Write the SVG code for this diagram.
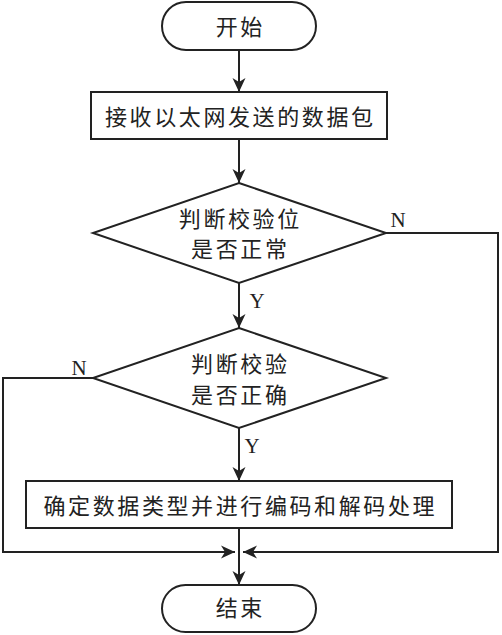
<svg xmlns="http://www.w3.org/2000/svg" width="502" height="635" viewBox="0 0 502 635">
<style>
.shape{fill:#fff;stroke:#222;stroke-width:2}
.line{fill:none;stroke:#222;stroke-width:2}
.cn{font-family:"Noto Sans CJK SC","Noto Sans CJK JP",sans-serif;font-size:22px;fill:#222;text-anchor:middle;dominant-baseline:central;letter-spacing:2.6px}
.lb{font-family:"Liberation Serif",serif;font-size:21px;fill:#222;text-anchor:middle}
</style>
<defs>
<marker id="ah" markerUnits="userSpaceOnUse" markerWidth="16" markerHeight="14" refX="15" refY="7" orient="auto">
<path d="M15,7 L1,0.5 L5,7 L1,13.5 Z" fill="#222"/>
</marker>
</defs>
<rect width="502" height="635" fill="#fff"/>
<g id="connectors">
<line class="line" x1="239" y1="50" x2="239" y2="92" marker-end="url(#ah)"/>
<line class="line" x1="239" y1="139" x2="239" y2="183" marker-end="url(#ah)"/>
<line class="line" x1="239" y1="283" x2="239" y2="328" marker-end="url(#ah)"/>
<line class="line" x1="239" y1="428" x2="239" y2="481" marker-end="url(#ah)"/>
<line class="line" x1="239" y1="528" x2="239" y2="585" marker-end="url(#ah)"/>
<polyline class="line" points="386,233 498,233 498,552 243,552" marker-end="url(#ah)"/>
<polyline class="line" points="93,378 3,378 3,552 235,552" marker-end="url(#ah)"/>
<text class="lb" x="398" y="227">N</text>
<text class="lb" x="257" y="308">Y</text>
<text class="lb" x="79" y="375">N</text>
<text class="lb" x="252" y="453">Y</text>
</g>
<g id="start">
<rect class="shape" x="162" y="2" width="154" height="48" rx="24" ry="24"/>
<text class="cn" x="240.3" y="25">开始</text>
</g>
<g id="receive">
<rect class="shape" x="91" y="92" width="296" height="47"/>
<text class="cn" x="240.3" y="114.5">接收以太网发送的数据包</text>
</g>
<g id="check-bit">
<polygon class="shape" points="239,183 386,233 239,283 93,233"/>
<text class="cn" x="240.3" y="217">判断校验位</text>
<text class="cn" x="240.3" y="247">是否正常</text>
</g>
<g id="check-correct">
<polygon class="shape" points="239,328 386,378 239,428 93,378"/>
<text class="cn" x="240.3" y="362">判断校验</text>
<text class="cn" x="240.3" y="393">是否正确</text>
</g>
<g id="process">
<rect class="shape" x="26" y="481" width="426" height="47"/>
<text class="cn" x="240.3" y="504">确定数据类型并进行编码和解码处理</text>
</g>
<g id="end">
<rect class="shape" x="162" y="585" width="154" height="47" rx="23.5" ry="23.5"/>
<text class="cn" x="240.3" y="606">结束</text>
</g>
</svg>
